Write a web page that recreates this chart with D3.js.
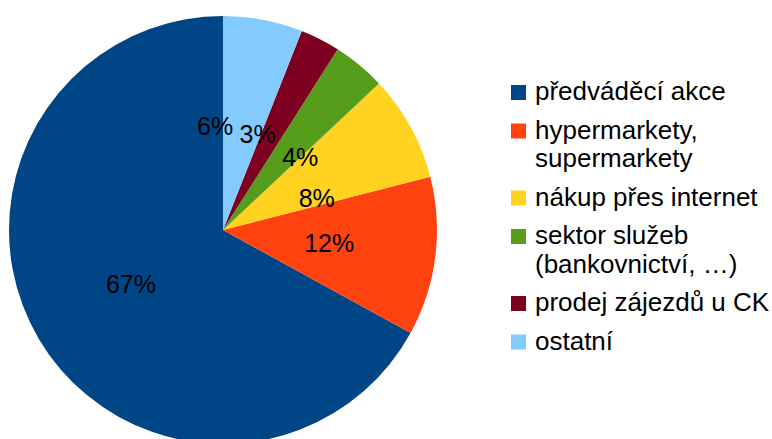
<!DOCTYPE html>
<html>
<head>
<meta charset="utf-8">
<script src="https://cdn.jsdelivr.net/npm/d3@7"></script>
<style>
  html, body { margin: 0; padding: 0; background: #fff; }
  svg { display: block; }
  text { font-family: "Liberation Sans", Arial, sans-serif; fill: #000; }
</style>
</head>
<body>
<svg id="chart" width="772" height="439"></svg>
<script>
// Data: share of respondents by sales channel
const categories = [
  "předváděcí akce",
  "hypermarkety, supermarkety",
  "nákup přes internet",
  "sektor služeb (bankovnictví, …)",
  "prodej zájezdů u CK",
  "ostatní"
];
const values = [67, 12, 8, 4, 3, 6];
const percentLabels = ["67%", "12%", "8%", "4%", "3%", "6%"];
const legendLines = [
  ["předváděcí akce"],
  ["hypermarkety,", "supermarkety"],
  ["nákup přes internet"],
  ["sektor služeb", "(bankovnictví, …)"],
  ["prodej zájezdů u CK"],
  ["ostatní"]
];

// Presentation
const colors = ["#004586", "#ff420e", "#ffd320", "#579d1c", "#7e0021", "#83caff"];
// small shifts that keep the crowded labels apart
const labelShift = [[0, 0], [0, 0], [0, 20], [9, 9], [-14, -1], [-28, 1]];

const svg = d3.select("#chart");
const cx = 223, cy = 230, R = 214;

const color = d3.scaleOrdinal().domain(categories).range(colors);

const pie = d3.pie()
  .sort(null)
  .value(d => d.value)
  .startAngle(0)
  .endAngle(-2 * Math.PI);

const rows = categories.map((c, i) => ({ name: c, value: values[i], label: percentLabels[i], i }));
const arcs = pie(rows);

const arc = d3.arc().innerRadius(0).outerRadius(R);
const labelArc = d3.arc().innerRadius(R * 0.5).outerRadius(R * 0.5);

const g = svg.append("g").attr("transform", `translate(${cx},${cy})`);

g.selectAll("path.slice")
  .data(arcs)
  .join("path")
  .attr("class", "slice")
  .attr("d", arc)
  .attr("fill", d => color(d.data.name));

g.selectAll("text.pct")
  .data(arcs)
  .join("text")
  .attr("class", "pct")
  .attr("text-anchor", "middle")
  .attr("font-size", 25)
  .attr("transform", d => {
    const [x, y] = labelArc.centroid(d);
    const s = labelShift[d.data.i];
    return `translate(${x + s[0]},${y + s[1]})`;
  })
  .attr("dy", "0.36em")
  .text(d => d.data.label);

// Legend
const legend = svg.append("g").attr("transform", "translate(511,0)");
const fontSize = 26, lineH = 28.5, itemGap = 38.5, sq = 15;
let baseline = 100;
legendLines.forEach((lines, i) => {
  const item = legend.append("g");
  item.append("rect")
    .attr("x", 0)
    .attr("y", baseline - sq)
    .attr("width", sq)
    .attr("height", sq)
    .attr("fill", color(categories[i]));
  lines.forEach((t, j) => {
    item.append("text")
      .attr("x", 24)
      .attr("y", baseline + j * lineH)
      .attr("font-size", fontSize)
      .text(t);
  });
  baseline += (lines.length - 1) * lineH + itemGap;
});
</script>
</body>
</html>
